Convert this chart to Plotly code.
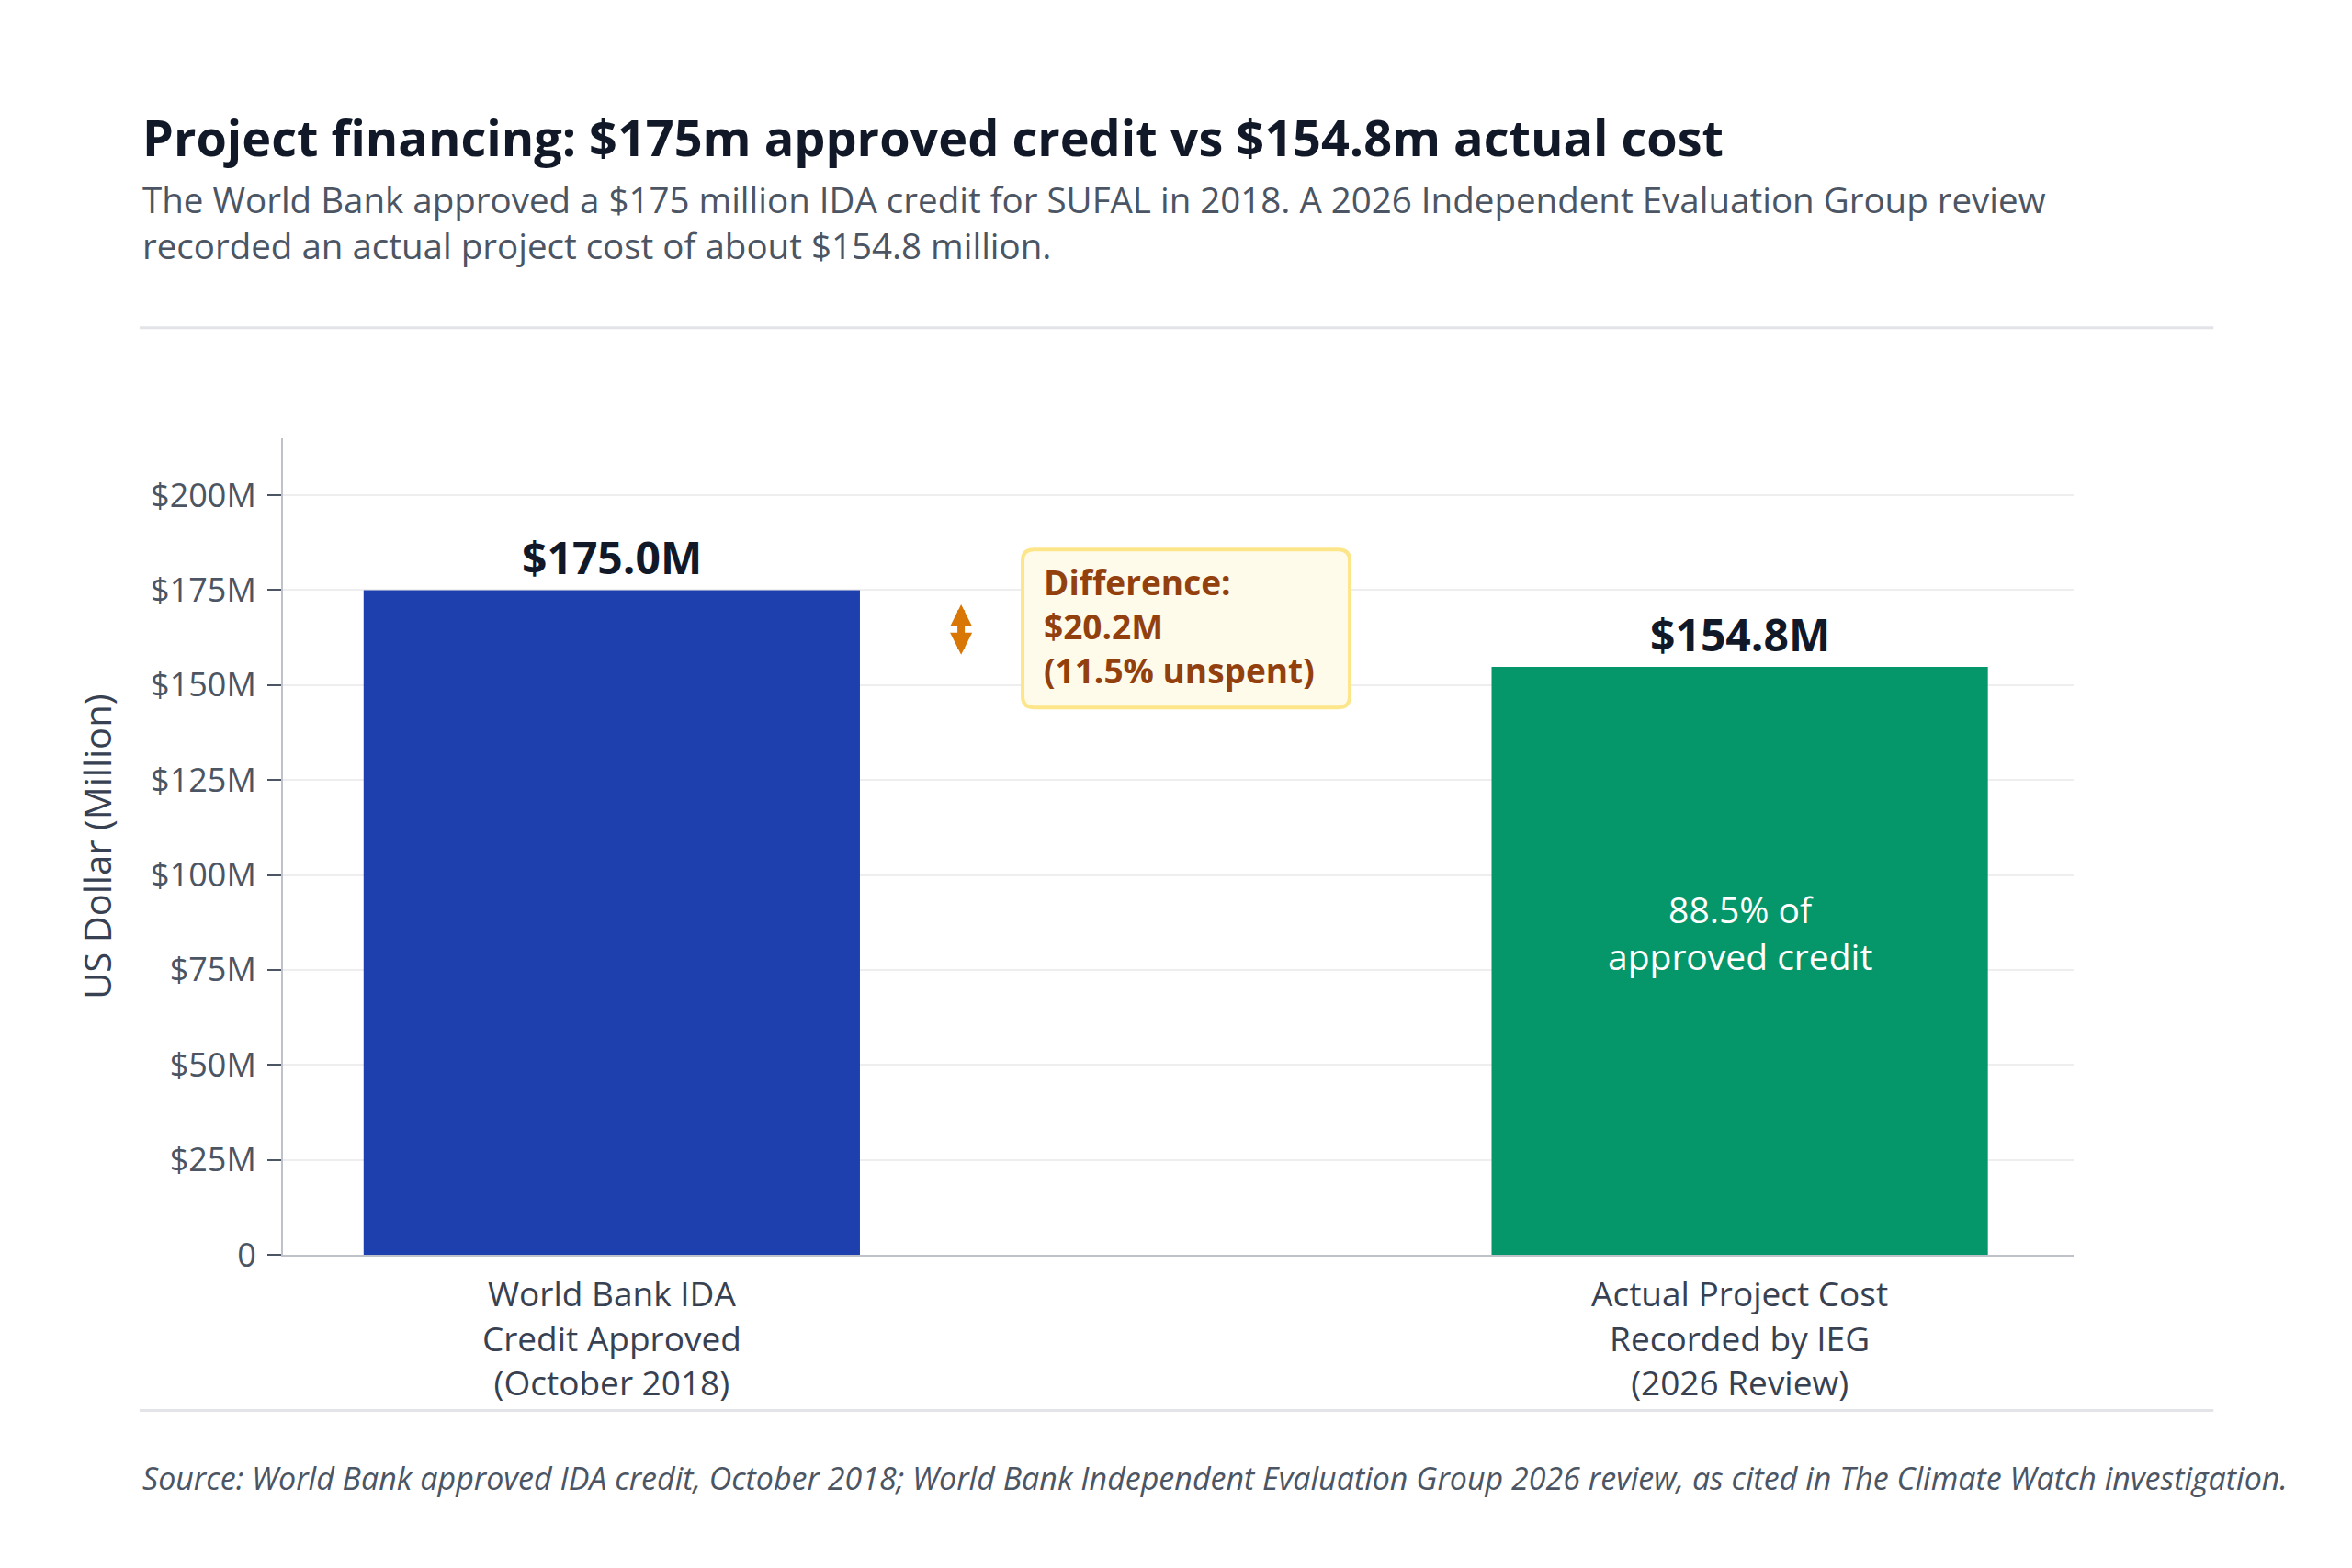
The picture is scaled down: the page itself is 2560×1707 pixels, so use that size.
import plotly.graph_objects as go

# data
categories = ["World Bank IDA<br>Credit Approved<br>(October 2018)",
              "Actual Project Cost<br>Recorded by IEG<br>(2026 Review)"]
x_pos = [0, 1]
values = [175.0, 154.8]
bar_colors = ["#1E40AF", "#059669"]
y_tickvals = [0, 25, 50, 75, 100, 125, 150, 175, 200]
y_ticktext = ["0", "$25M", "$50M", "$75M", "$100M", "$125M", "$150M", "$175M", "$200M"]

diff = values[0] - values[1]
diff_pct = diff / values[0] * 100
share_pct = values[1] / values[0] * 100

FONT = "Open Sans"

fig = go.Figure()
fig.add_trace(go.Bar(
    x=x_pos, y=values, width=0.44,
    marker=dict(color=bar_colors, line=dict(width=0)),
    hoverinfo="skip", showlegend=False,
))

annotations = []
# value labels above bars
for xi, v in zip(x_pos, values):
    annotations.append(dict(
        x=xi, y=v, xref="x", yref="y", text=f"<b>${v:.1f}M</b>",
        showarrow=False, yanchor="bottom", yshift=1,
        font=dict(family=FONT, size=48, color="#111827"),
    ))

# label inside the cost bar
annotations.append(dict(
    x=x_pos[1], y=85, xref="x", yref="y",
    text=f"{share_pct:.1f}% of<br>approved credit",
    showarrow=False, font=dict(family=FONT, size=39, color="#FFFFFF"),
))

# difference arrow (two heads)
annotations.append(dict(
    x=0.3097, y=158.0, ax=0.3097, ay=171.6, xref="x", yref="y", axref="x", ayref="y",
    text="", showarrow=True, arrowhead=2, startarrowhead=2, arrowside="end+start",
    arrowsize=0.6, startarrowsize=0.6, arrowwidth=8, arrowcolor="#D97706",
))

# difference callout text
annotations.append(dict(
    x=0.3814, y=165.5, xref="x", yref="y", xanchor="left", yanchor="middle", align="left",
    text=f"<b>Difference:<br>${diff:.1f}M<br>({diff_pct:.1f}% unspent)</b>",
    showarrow=False, font=dict(family=FONT, size=37, color="#92400E"),
))

# y axis title
annotations.append(dict(
    x=-0.104, y=0.5, xref="paper", yref="paper", xanchor="center", yanchor="middle",
    textangle=-90, text="US Dollar (Million)", showarrow=False,
    font=dict(family=FONT, size=40, color="#374151"),
))

# title, subtitle, source
annotations.append(dict(
    x=-0.0795, y=1.3687, xref="paper", yref="paper", xanchor="left", yanchor="middle",
    text="<b>Project financing: $175m approved credit vs $154.8m actual cost</b>",
    showarrow=False, font=dict(family=FONT, size=54, color="#111827"),
))
annotations.append(dict(
    x=-0.0795, y=1.2642, xref="paper", yref="paper", xanchor="left", yanchor="middle",
    align="left",
    text="The World Bank approved a $175 million IDA credit for SUFAL in 2018. "
         "A 2026 Independent Evaluation Group review<br>"
         "recorded an actual project cost of about $154.8 million.",
    showarrow=False, font=dict(family=FONT, size=38.5, color="#4B5563"),
))
annotations.append(dict(
    x=-0.0795, y=-0.2737, xref="paper", yref="paper", xanchor="left", yanchor="middle",
    text="<i>Source: World Bank approved IDA credit, October 2018; World Bank Independent "
         "Evaluation Group 2026 review, as cited in The Climate Watch investigation.</i>",
    showarrow=False, font=dict(family=FONT, size=34, color="#4B5563"),
))

shapes = [
    # separators
    dict(type="line", xref="paper", yref="paper", x0=-0.0801, x1=1.0781, y0=1.1353, y1=1.1353,
         line=dict(color="#E2E4E8", width=3)),
    dict(type="line", xref="paper", yref="paper", x0=-0.0801, x1=1.0781, y0=-0.1906, y1=-0.1906,
         line=dict(color="#E2E4E8", width=3)),
    # rounded callout box, pixel sized around its centre
    dict(type="path", xref="x", yref="y", xsizemode="pixel", ysizemode="pixel",
         xanchor=0.5092, yanchor=164.9,
         path="M -166,-86 L 166,-86 Q 178,-86 178,-74 L 178,74 Q 178,86 166,86 "
              "L -166,86 Q -178,86 -178,74 L -178,-74 Q -178,-86 -166,-86 Z",
         fillcolor="#FFFBEB", line=dict(color="#FDE68A", width=4), layer="above"),
]

fig.update_layout(
    width=2560, height=1707,
    margin=dict(l=300, r=311, t=469, b=349, autoexpand=False),
    paper_bgcolor="#FFFFFF", plot_bgcolor="#FFFFFF",
    font=dict(family=FONT, color="#374151"),
    annotations=annotations, shapes=shapes,
    xaxis=dict(
        range=[-0.2915, 1.296], tickvals=x_pos, ticktext=categories,
        showgrid=False, zeroline=False, showline=True, linecolor="#BFC3C9", linewidth=2,
        ticks="", ticklabelstandoff=10,
        tickfont=dict(family=FONT, size=37, color="#374151"),
    ),
    yaxis=dict(
        range=[0, 215], tickvals=y_tickvals, ticktext=y_ticktext,
        showgrid=True, gridcolor="#EEEEEE", gridwidth=2, zeroline=False,
        showline=True, linecolor="#BFC3C9", linewidth=2,
        ticks="outside", ticklen=15, tickcolor="#4B5563", tickwidth=2,
        ticklabelstandoff=5,
        tickfont=dict(family=FONT, size=36, color="#4B5563"),
    ),
)

fig.write_html("out.html")
